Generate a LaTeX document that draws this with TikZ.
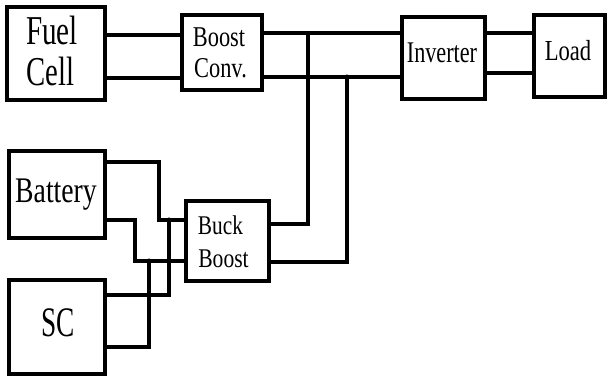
\documentclass[tikz,border=0pt]{standalone}
\usepackage{fontspec}
\usepackage{graphicx}
\setmainfont{Liberation Serif}
\newcommand\sqz[3]{\scalebox{#1}[1]{\fontsize{#2}{#2}\selectfont #3}}
\begin{document}
\begin{tikzpicture}[x=1pt,y=-1pt,
  blk/.style={draw,line width=4pt,rectangle,outer sep=0pt,inner sep=0pt,fill=white},
  wire/.style={line width=3.8pt,line join=miter},
  txt/.style={anchor=base,inner sep=0pt,outer sep=0pt},
  jdot/.style={circle,fill,inner sep=0pt,minimum size=5pt}]
\useasboundingbox (0,0) rectangle (611,379);
% blocks
\node[blk,minimum width=98pt,minimum height=93pt] (fc) at (56,53.5) {};
\node[blk,minimum width=80pt,minimum height=75pt] (bc) at (222,52.5) {};
\node[blk,minimum width=83pt,minimum height=82pt] (inv) at (443.5,58) {};
\node[blk,minimum width=71pt,minimum height=82pt] (load) at (569.5,56) {};
\node[blk,minimum width=96pt,minimum height=87pt] (bat) at (57,194.5) {};
\node[blk,minimum width=96pt,minimum height=94pt] (sc) at (57,327) {};
\node[blk,minimum width=83pt,minimum height=80pt] (bb) at (227.5,241) {};
% texts
\node[txt] (t1) at (52,45) {\sqz{0.71}{41}{Fuel}};
\node[txt] (t2) at (50.5,86) {\sqz{0.70}{41}{Cell}};
\node[txt] (t3) at (219,47) {\sqz{0.78}{28.7}{Boost}};
\node[txt] (t4) at (220.5,78) {\sqz{0.78}{28.7}{Conv.}};
\node[txt] (t5) at (442,63) {\sqz{0.74}{30}{Inverter}};
\node[txt] (t6) at (568,61) {\sqz{0.78}{29}{Load}};
\node[txt] (t7) at (56,203) {\sqz{0.77}{36}{Battery}};
\node[txt] (t8) at (220.5,235) {\sqz{0.79}{27}{Buck}};
\node[txt] (t9) at (223.5,268) {\sqz{0.8}{27}{Boost}};
\node[txt] (t10) at (58.5,337) {\sqz{0.65}{42}{SC}};
% junction / bend coordinates
\coordinate (b1) at (159,162);
\coordinate (b2) at (159,220);
\coordinate (b3) at (135,220);
\coordinate (b4) at (135,261);
\coordinate (s1) at (169,295);
\coordinate (s2) at (169,220);
\coordinate (s3) at (149,347);
\coordinate (s4) at (149,261);
\coordinate (o1) at (308,224);
\coordinate (o2) at (308,33);
\coordinate (o3) at (347,262);
\coordinate (o4) at (347,77);
% wires
\draw[wire] (fc.east |- 0,35) -- (bc.west |- 0,35);
\draw[wire] (fc.east |- 0,78) -- (bc.west |- 0,78);
\draw[wire] (bc.east |- 0,33) -- (inv.west |- 0,33);
\draw[wire] (bc.east |- 0,77) -- (inv.west |- 0,77);
\draw[wire] (inv.east |- 0,33) -- (load.west |- 0,33);
\draw[wire] (inv.east |- 0,73) -- (load.west |- 0,73);
\draw[wire] (bat.east |- b1) -- (b1) -- (b2) -- (bb.west |- b2);
\draw[wire] (bat.east |- b3) -- (b3) -- (b4) -- (bb.west |- b4);
\draw[wire] (sc.east |- s1) -- (s1) -- (s2);
\draw[wire] (sc.east |- s3) -- (s3) -- (s4);
\draw[wire] (bb.east |- o1) -- (o1) -- (o2);
\draw[wire] (bb.east |- o3) -- (o3) -- (o4);
\node[jdot] (d1) at (s2) {};
\node[jdot] (d2) at (s4) {};
\node[jdot] (d3) at (o4) {};
\end{tikzpicture}
\end{document}
